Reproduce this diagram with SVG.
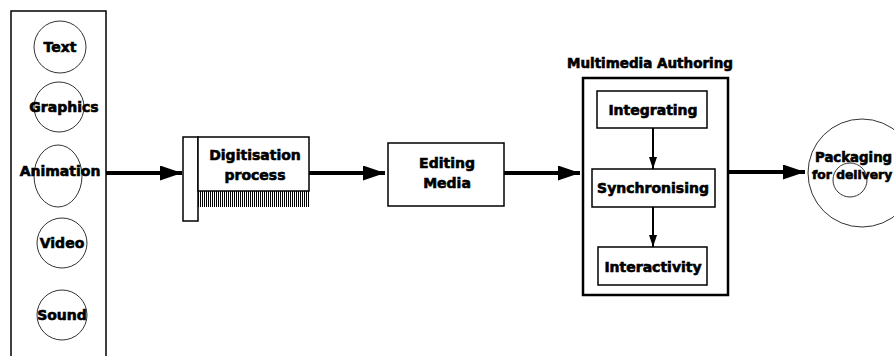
<svg xmlns="http://www.w3.org/2000/svg" width="894" height="356" viewBox="0 0 894 356">
<style>
text{font-family:"DejaVu Sans","Liberation Sans",sans-serif;font-weight:bold;font-size:14px;fill:#000;stroke:#000;stroke-width:0.6;text-anchor:middle;dominant-baseline:central}
.c{fill:none;stroke:#333;stroke-width:1}
.box{fill:#fff;stroke:#000;stroke-width:1.5}
.ln{stroke:#000;stroke-width:4;fill:none}
.thin{stroke:#000;stroke-width:2;fill:none}
</style>
<defs>
<pattern id="hatch" width="2" height="4" patternUnits="userSpaceOnUse">
<rect width="2" height="4" fill="#fff"/>
<rect width="1" height="4" fill="#000"/>
</pattern>
<marker id="big" viewBox="0 0 22 15" refX="22" refY="7.5" markerWidth="22" markerHeight="15" markerUnits="userSpaceOnUse" orient="auto">
<path d="M0,0 L22,7.5 L0,15 Z" fill="#000"/>
</marker>
<marker id="small" viewBox="0 0 8 12" refX="4" refY="12" markerWidth="8" markerHeight="12" markerUnits="userSpaceOnUse" orient="0">
<path d="M0,0 L4,12 L8,0 Z" fill="#000"/>
</marker>
</defs>
<rect width="894" height="356" fill="#fff"/>
<g id="sources">
<path d="M11,356 L11,11 L106,11 L106,356" fill="none" stroke="#000" stroke-width="1.5"/>
<g id="text-node"><circle class="c" cx="60" cy="47" r="26"/><text x="60" y="47">Text</text></g>
<g id="graphics-node"><circle class="c" cx="59" cy="107" r="25"/><text x="64" y="107">Graphics</text></g>
<g id="animation-node"><ellipse class="c" cx="58" cy="176" rx="24" ry="31"/><text x="60" y="171">Animation</text></g>
<g id="video-node"><circle class="c" cx="62" cy="243" r="25"/><text x="62" y="243">Video</text></g>
<g id="sound-node"><circle class="c" cx="62" cy="315" r="25"/><text x="62" y="315">Sound</text></g>
</g>
<g id="digitisation">
<rect class="box" x="183" y="137" width="15" height="84"/>
<rect x="198" y="191" width="111" height="16" fill="url(#hatch)"/>
<rect class="box" x="198" y="137" width="111" height="54"/>
<text x="255" y="155">Digitisation</text>
<text x="255" y="175">process</text>
</g>
<g id="editing">
<rect class="box" x="388" y="143" width="116" height="63"/>
<text x="447" y="163">Editing</text>
<text x="447" y="183">Media</text>
</g>
<g id="authoring">
<text x="650" y="63" style="font-size:13.5px">Multimedia Authoring</text>
<rect x="583" y="78" width="145" height="217" fill="#fff" stroke="#000" stroke-width="2.5"/>
</g>
<g id="integrating"><rect class="box" x="597" y="91" width="110" height="37"/><text x="653" y="110">Integrating</text></g>
<g id="synchronising"><rect class="box" x="592" y="169" width="123" height="38"/><text x="653" y="188">Synchronising</text></g>
<g id="interactivity"><rect class="box" x="598" y="247" width="109" height="38"/><text x="653" y="267">Interactivity</text></g>
<g id="packaging">
<circle class="c" cx="862" cy="173" r="54"/>
<circle class="c" cx="850" cy="180" r="17"/>
<text x="815" y="157" style="text-anchor:start;font-size:13.3px">Packaging</text>
<text x="812" y="175" style="text-anchor:start;font-size:12.3px">for delivery</text>
</g>
<g id="connectors">
<line class="ln" x1="106" y1="173" x2="182" y2="173" marker-end="url(#big)"/>
<line class="ln" x1="309" y1="173" x2="385" y2="173" marker-end="url(#big)"/>
<line class="ln" x1="504" y1="173" x2="580" y2="173" marker-end="url(#big)"/>
<line class="ln" x1="728" y1="172" x2="805" y2="172" marker-end="url(#big)"/>
<line class="thin" x1="653" y1="128" x2="653" y2="169" marker-end="url(#small)"/>
<line class="thin" x1="653" y1="207" x2="653" y2="247" marker-end="url(#small)"/>
</g>
</svg>
